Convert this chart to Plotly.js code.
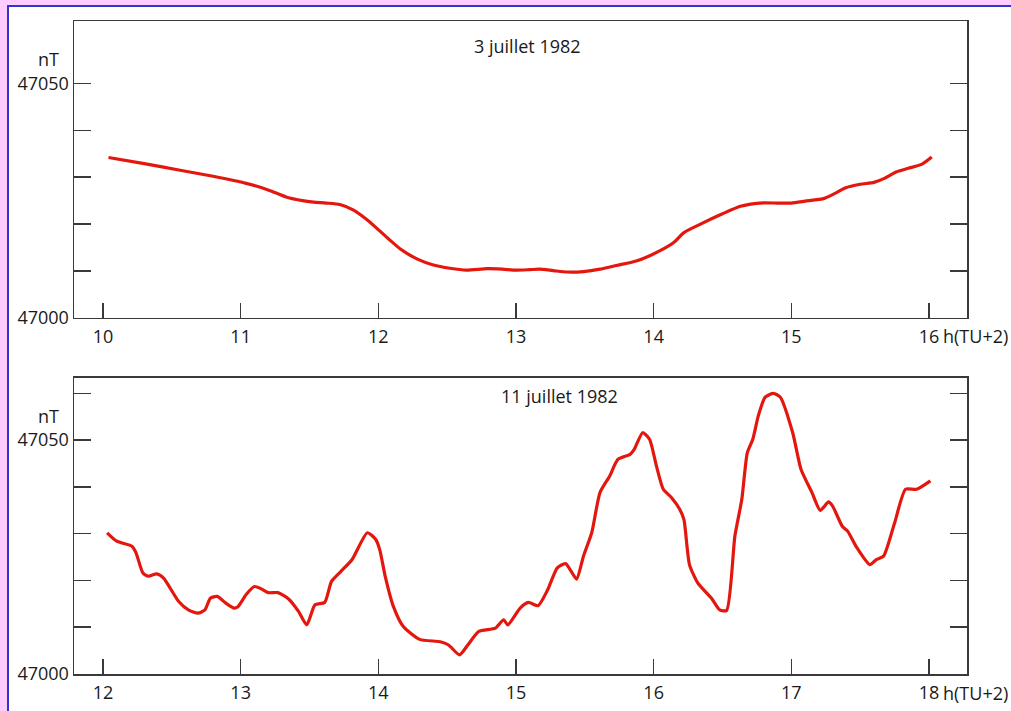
<!DOCTYPE html>
<html>
<head>
<meta charset="utf-8">
<script src="https://cdn.plot.ly/plotly-3.0.1.min.js"></script>
<style>
  html, body { margin: 0; padding: 0; width: 1011px; height: 711px; overflow: hidden; background: #FFCCFF; }
  #frame { position: absolute; left: 7px; top: 5px; width: 1004px; height: 706px;
           border-left: 2px solid #3333CC; border-top: 2px solid #3333CC; background: #ffffff; box-sizing: border-box; }
  #chart { position: absolute; left: 0; top: 0; width: 1002px; height: 704px; }
</style>
</head>
<body>
<div id="frame"><div id="chart"></div></div>
<script>
// Magnetic field intensity (nT), 3 July 1982, hours in local time (TU+2)
const hoursJul3 = [10.04, 10.30, 10.56, 10.80, 11.04, 11.20, 11.33, 11.45, 11.53, 11.62, 11.72, 11.82,
  11.92, 11.99, 12.08, 12.16, 12.28, 12.40, 12.52, 12.64, 12.79, 12.90, 13.00, 13.10, 13.17, 13.27,
  13.37, 13.49, 13.61, 13.73, 13.88, 14.05, 14.15, 14.22, 14.34, 14.50, 14.63, 14.77, 14.90, 15.00,
  15.10, 15.24, 15.32, 15.39, 15.50, 15.60, 15.68, 15.76, 15.85, 15.95, 16.02];
const fieldJul3 = [47034.2, 47032.9, 47031.5, 47030.2, 47028.7, 47027.3, 47025.8, 47025.0, 47024.7, 47024.5,
  47024.2, 47023.0, 47020.9, 47019.1, 47016.7, 47014.7, 47012.6, 47011.3, 47010.6, 47010.2, 47010.5,
  47010.4, 47010.2, 47010.3, 47010.4, 47010.1, 47009.8, 47009.9, 47010.4, 47011.2, 47012.2, 47014.4,
  47016.2, 47018.2, 47020.0, 47022.2, 47023.8, 47024.5, 47024.5, 47024.5, 47024.9, 47025.5, 47026.6,
  47027.7, 47028.5, 47028.9, 47029.8, 47031.1, 47031.9, 47032.8, 47034.3];

// Magnetic field intensity (nT), 11 July 1982
const hoursJul11 = [12.03, 12.10, 12.21, 12.24, 12.29, 12.33, 12.39, 12.44, 12.55, 12.62, 12.69, 12.74,
  12.78, 12.83, 12.89, 12.95, 12.98, 13.04, 13.10, 13.15, 13.20, 13.27, 13.35, 13.42, 13.48, 13.54,
  13.61, 13.66, 13.73, 13.81, 13.92, 13.98, 14.01, 14.05, 14.11, 14.18, 14.30, 14.45, 14.51, 14.59,
  14.65, 14.73, 14.85, 14.91, 14.94, 15.03, 15.09, 15.16, 15.23, 15.30, 15.36, 15.40, 15.44, 15.49,
  15.55, 15.61, 15.68, 15.74, 15.83, 15.86, 15.92, 15.97, 16.02, 16.07, 16.13, 16.19, 16.22, 16.26,
  16.32, 16.42, 16.48, 16.53, 16.59, 16.64, 16.68, 16.72, 16.76, 16.81, 16.87, 16.92, 17.01, 17.07,
  17.15, 17.21, 17.27, 17.30, 17.37, 17.41, 17.47, 17.57, 17.62, 17.67, 17.75, 17.83, 17.91, 18.01];
const fieldJul11 = [47030.2, 47028.4, 47027.3, 47025.9, 47021.6, 47020.9, 47021.4, 47020.5, 47015.5,
  47013.7, 47013.0, 47013.7, 47016.2, 47016.6, 47015.2, 47014.1, 47014.4, 47017.0, 47018.7, 47018.2,
  47017.4, 47017.4, 47016.0, 47013.4, 47010.5, 47014.8, 47015.3, 47019.8, 47022.0, 47024.5, 47030.2,
  47028.8, 47026.6, 47020.9, 47014.4, 47010.2, 47007.4, 47006.9, 47006.2, 47004.1, 47006.2, 47009.1,
  47009.8, 47011.6, 47010.5, 47014.1, 47015.3, 47014.6, 47018.0, 47022.7, 47023.6, 47022.0, 47020.3,
  47025.2, 47030.2, 47038.8, 47042.3, 47045.9, 47047.0, 47048.1, 47051.6, 47050.2, 47044.5, 47039.5,
  47037.7, 47035.2, 47033.0, 47023.4, 47019.5, 47016.2, 47013.7, 47013.6, 47029.5, 47037.3, 47047.3,
  47050.2, 47055.2, 47059.2, 47060.0, 47059.2, 47051.6, 47043.8, 47038.8, 47035.0, 47036.8, 47035.9,
  47031.6, 47030.5, 47027.3, 47023.4, 47024.5, 47025.2, 47032.3, 47039.5, 47039.5, 47041.3];

const ticksJul3 = [10, 11, 12, 13, 14, 15, 16];
const tickTextJul3 = ['10', '11', '12', '13', '14', '15', '16'];
const ticksJul11 = [12, 13, 14, 15, 16, 17, 18];
const tickTextJul11 = ['12', '13', '14', '15', '16', '17', '18'];
const fieldTicksTop = [47000, 47010, 47020, 47030, 47040, 47050];
const fieldTicksBottom = [47000, 47010, 47020, 47030, 47040, 47050, 47060];
const fieldLabel = v => (v === 47000 || v === 47050) ? String(v) : '';

const FONT = { family: 'Open Sans, Noto Sans, sans-serif', size: 18, color: '#1a1a1a' };
const AX = '#3a3a3a';
const RED = '#E3170D';

const xBase = {
  showgrid: false, zeroline: false, showline: true, linecolor: AX, linewidth: 1.5, mirror: true,
  ticks: 'inside', ticklen: 15, tickwidth: 1.5, tickcolor: AX, tickmode: 'array',
  ticklabelstandoff: 2, tickfont: FONT, fixedrange: true
};
const yBase = {
  showgrid: false, zeroline: false, showline: true, linecolor: AX, linewidth: 1.5, mirror: 'ticks',
  ticks: 'inside', ticklen: 17, tickwidth: 1.5, tickcolor: AX, tickmode: 'array',
  tickfont: FONT, range: [47000, 47063.3], fixedrange: true
};

const traces = [
  { x: hoursJul3, y: fieldJul3, xaxis: 'x', yaxis: 'y', mode: 'lines',
    line: { color: RED, width: 3.2, shape: 'spline', smoothing: 0.6 }, hoverinfo: 'skip' },
  { x: hoursJul11, y: fieldJul11, xaxis: 'x2', yaxis: 'y2', mode: 'lines',
    line: { color: RED, width: 3.2, shape: 'spline', smoothing: 0.6 }, hoverinfo: 'skip' }
];

const layout = {
  width: 1002, height: 704,
  margin: { l: 65, r: 44, t: 14, b: 37 },
  paper_bgcolor: '#ffffff', plot_bgcolor: '#ffffff',
  showlegend: false,
  font: FONT,
  xaxis: Object.assign({}, xBase, { anchor: 'y', domain: [0, 1], range: [9.7894, 16.276],
    tickvals: ticksJul3, ticktext: tickTextJul3 }),
  yaxis: Object.assign({}, yBase, { anchor: 'x', domain: [0.5452, 1],
    tickvals: fieldTicksTop, ticktext: fieldTicksTop.map(fieldLabel) }),
  xaxis2: Object.assign({}, xBase, { anchor: 'y2', domain: [0, 1], range: [11.7894, 18.276],
    tickvals: ticksJul11, ticktext: tickTextJul11 }),
  yaxis2: Object.assign({}, yBase, { anchor: 'x2', domain: [0, 0.4533],
    tickvals: fieldTicksBottom, ticktext: fieldTicksBottom.map(fieldLabel) }),
  annotations: [
    { text: '3 juillet 1982', xref: 'paper', yref: 'paper', x: 0.5078, y: 0.9617,
      xanchor: 'center', yanchor: 'middle', showarrow: false, font: FONT },
    { text: '11 juillet 1982', xref: 'paper', yref: 'paper', x: 0.5442, y: 0.4257,
      xanchor: 'center', yanchor: 'middle', showarrow: false, font: FONT },
    { text: 'nT', xref: 'paper', yref: 'y', x: -0.0146, y: 47055.1,
      xanchor: 'right', yanchor: 'middle', showarrow: false, font: FONT },
    { text: 'nT', xref: 'paper', yref: 'y2', x: -0.0146, y: 47055.2,
      xanchor: 'right', yanchor: 'middle', showarrow: false, font: FONT },
    { text: 'h(TU+2)', xref: 'x', yref: 'paper', x: 16, xshift: 12, y: 0.5176,
      xanchor: 'left', yanchor: 'middle', showarrow: false, font: FONT },
    { text: 'h(TU+2)', xref: 'x2', yref: 'paper', x: 18, xshift: 12, y: -0.0291,
      xanchor: 'left', yanchor: 'middle', showarrow: false, font: FONT }
  ]
};

Plotly.newPlot('chart', traces, layout, { staticPlot: true, displayModeBar: false });
</script>
</body>
</html>
